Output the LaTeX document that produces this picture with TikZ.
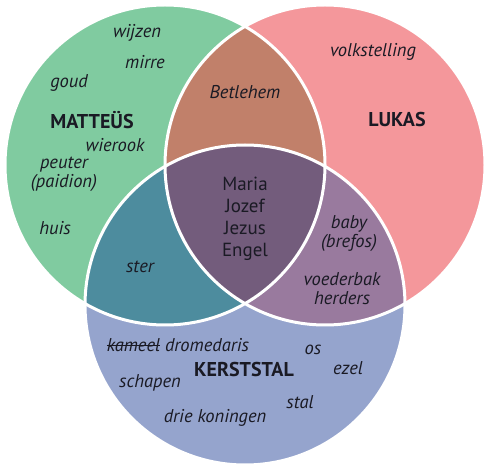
\documentclass[tikz,border=0pt]{standalone}
\usepackage{fontspec}
\setmainfont{PT Sans}

\definecolor{mgreen}{HTML}{80CBA0}
\definecolor{lpink}{HTML}{F4979B}
\definecolor{kblue}{HTML}{95A4CD}
\definecolor{brownish}{HTML}{C1806A}
\definecolor{tealish}{HTML}{4D8C9E}
\definecolor{mauve}{HTML}{997A9E}
\definecolor{core}{HTML}{735C7C}
\definecolor{ink}{HTML}{1A1A24}

\newcommand{\crossout}[1]{\setbox0=\hbox{#1}\rlap{\rule[0.28em]{\wd0}{0.07em}}\box0\relax}

\tikzset{
  word/.style={font=\itshape\fontsize{18.5}{19}\selectfont, text=ink, align=center},
  title/.style={font=\bfseries\fontsize{20}{22}\selectfont, text=ink},
  rim/.style={draw=white, line width=3pt}
}

\begin{document}
\begin{tikzpicture}[x=1pt, y=-1pt]
  \useasboundingbox (0,0) rectangle (490,470);
  \coordinate (gc) at (165,165);
  \coordinate (rc) at (325,165);
  \coordinate (bc) at (245,305);

  % the three circles
  \fill[mgreen] (gc) circle (160pt);
  \fill[lpink] (rc) circle (160pt);
  \fill[kblue] (bc) circle (160pt);

  % overlaps
  \begin{scope}
    \clip (gc) circle (160pt);
    \fill[brownish] (rc) circle (160pt);
    \fill[tealish] (bc) circle (160pt);
  \end{scope}
  \begin{scope}
    \clip (rc) circle (160pt);
    \fill[mauve] (bc) circle (160pt);
    \clip (bc) circle (160pt);
    \fill[core] (gc) circle (160pt);
  \end{scope}

  \draw[rim] (gc) circle (160pt);
  \draw[rim] (rc) circle (160pt);
  \draw[rim] (bc) circle (160pt);

  % Matteus
  \node[word] (wijzen) at (137,33) {wijzen};
  \node[word] (mirre) at (145,62) {mirre};
  \node[word] (goud) at (69,83) {goud};
  \node[title] (matteus) at (92,120) {MATTEÜS};
  \node[word] (wierook) at (115,145) {wierook};
  \node[word] (peuter) at (64,174) {peuter\\(paidion)};
  \node[word] (huis) at (55,228) {huis};

  % Lukas
  \node[word] (volk) at (373,52) {volkstelling};
  \node[title] (lukas) at (397,120) {LUKAS};

  % overlaps
  \node[word] (betlehem) at (245,92) {Betlehem};
  \node[word] (baby) at (349,234) {baby\\(brefos)};
  \node[word] (voeder) at (342,289) {voederbak\\herders};
  \node[word] (ster) at (140,267) {ster};
  \node[text=ink, align=center, font=\fontsize{19}{22}\selectfont] (kern) at (245,219)
    {Maria\\Jozef\\Jezus\\Engel};

  % Kerststal
  \node[word] (dromedaris) at (178,345) {\crossout{kameel} dromedaris};
  \node[title] (kerststal) at (244,370) {KERSTSTAL};
  \node[word] (schapen) at (150,383) {schapen};
  \node[word] (koningen) at (215,418) {drie koningen};
  \node[word] (os) at (313,350) {os};
  \node[word] (ezel) at (348,368) {ezel};
  \node[word] (stal) at (300,402) {stal};
\end{tikzpicture}
\end{document}
